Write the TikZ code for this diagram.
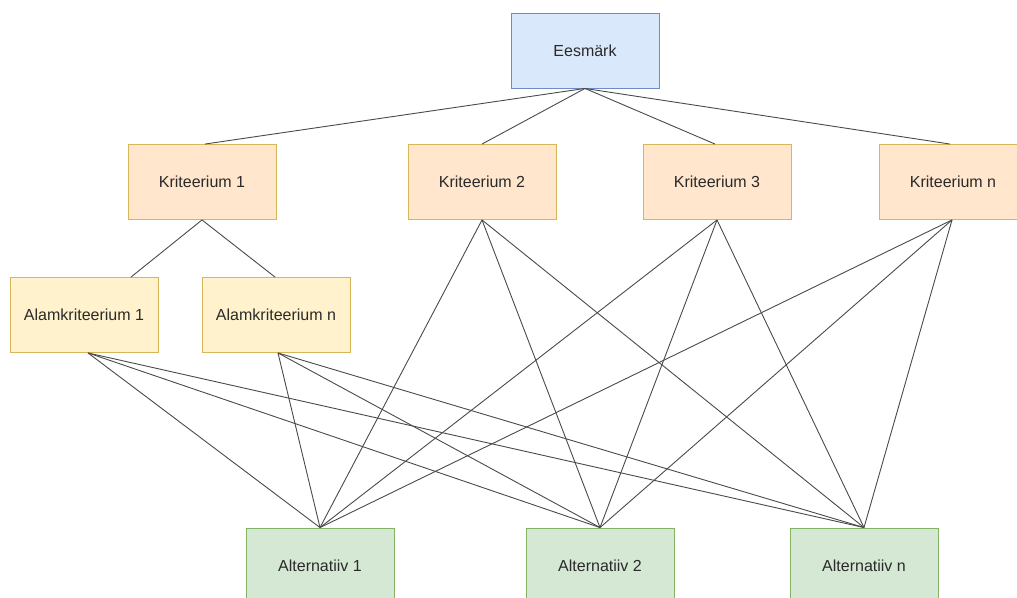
\documentclass[tikz,border=0pt]{standalone}
\usepackage{fontspec}
\setmainfont{Liberation Sans}
\usetikzlibrary{positioning}

\definecolor{goalfill}{HTML}{DAE8FC}
\definecolor{goalline}{HTML}{6C8EBF}
\definecolor{critfill}{HTML}{FFE6CC}
\definecolor{critline}{HTML}{D6B656}
\definecolor{subfill}{HTML}{FFF2CC}
\definecolor{subline}{HTML}{D6B656}
\definecolor{altfill}{HTML}{D5E8D4}
\definecolor{altline}{HTML}{82B366}
\definecolor{txt}{HTML}{2A2A2A}
\definecolor{edge}{HTML}{4A4A4A}

\tikzset{
  box/.style={draw, line width=0.9pt, minimum width=148pt, minimum height=75pt,
    inner sep=0pt, text=txt, font=\fontsize{16}{19}\selectfont},
  goal/.style={box, fill=goalfill, draw=goalline},
  crit/.style={box, fill=critfill, draw=critline},
  subcrit/.style={box, fill=subfill, draw=subline},
  alt/.style={box, fill=altfill, draw=altline},
  link/.style={draw=edge, line width=0.9pt}
}

\begin{document}
\begin{tikzpicture}[x=1pt,y=-1pt]
\useasboundingbox (0,0) rectangle (1017,597);

\node[goal] (eesmark) at (585,50.5) {Eesmärk};

\node[crit] (krit1) at (202,182) {Kriteerium 1};
\node[crit] (krit2) at (482,182) {Kriteerium 2};
\node[crit] (krit3) at (717,182) {Kriteerium 3};
\node[crit] (kritn) at (953,182) {Kriteerium n};

\node[subcrit] (alam1) at (84,315) {Alamkriteerium 1};
\node[subcrit] (alamn) at (276,315) {Alamkriteerium n};

\node[alt] (alt1) at (320,565.5) {Alternatiiv 1};
\node[alt] (alt2) at (600,565.5) {Alternatiiv 2};
\node[alt] (altn) at (864,565.5) {Alternatiiv n};

% goal to criteria
\draw[link] (eesmark.south) -- ([xshift=3pt]krit1.north);
\draw[link] (eesmark.south) -- (krit2.north);
\draw[link] (eesmark.south) -- ([xshift=-2pt]krit3.north);
\draw[link] (eesmark.south) -- ([xshift=-3pt]kritn.north);

% criterion 1 to its subcriteria
\draw[link] (krit1.south) -- ([xshift=47pt]alam1.north);
\draw[link] (krit1.south) -- ([xshift=-1pt]alamn.north);

% subcriteria to alternatives
\draw[link] ([xshift=4pt]alam1.south) -- (alt1.north);
\draw[link] ([xshift=4pt]alam1.south) -- (alt2.north);
\draw[link] ([xshift=4pt]alam1.south) -- (altn.north);
\draw[link] ([xshift=2pt]alamn.south) -- (alt1.north);
\draw[link] ([xshift=2pt]alamn.south) -- (alt2.north);
\draw[link] ([xshift=2pt]alamn.south) -- (altn.north);

% criteria to alternatives
\draw[link] (krit2.south) -- (alt1.north);
\draw[link] (krit2.south) -- (alt2.north);
\draw[link] (krit2.south) -- (altn.north);
\draw[link] (krit3.south) -- (alt1.north);
\draw[link] (krit3.south) -- (alt2.north);
\draw[link] (krit3.south) -- (altn.north);
\draw[link] ([xshift=-1pt]kritn.south) -- (alt1.north);
\draw[link] ([xshift=-1pt]kritn.south) -- (alt2.north);
\draw[link] ([xshift=-1pt]kritn.south) -- (altn.north);
\end{tikzpicture}
\end{document}
